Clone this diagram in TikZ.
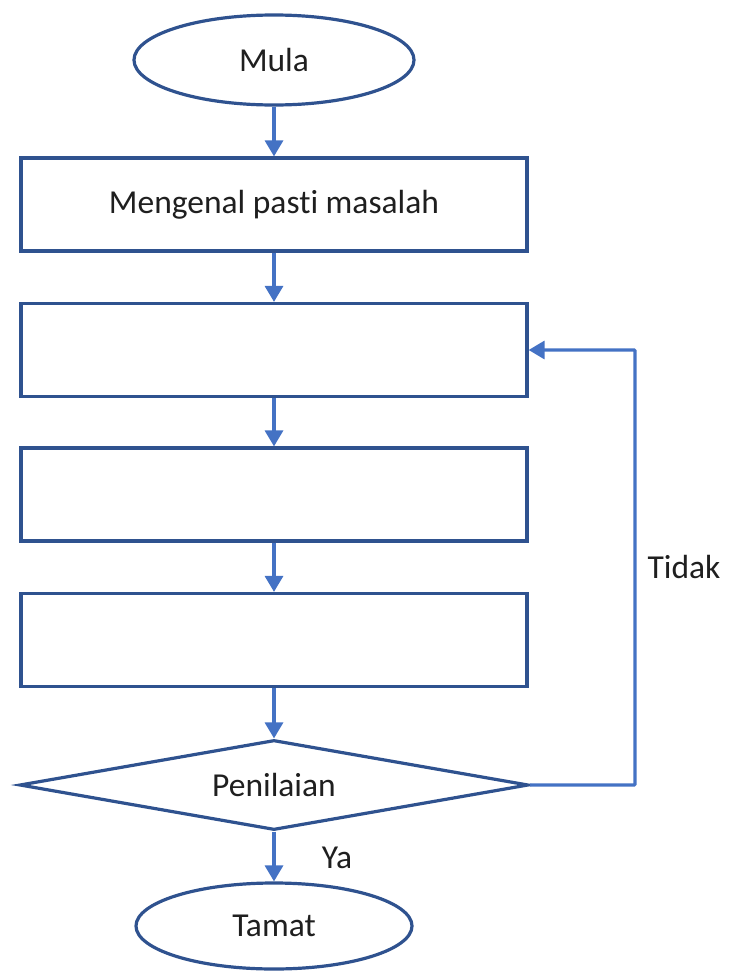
\documentclass[tikz,border=0pt]{standalone}
\usepackage{fontspec}
\setmainfont{Carlito}[Ligatures={NoCommon}]
\usetikzlibrary{shapes.geometric,arrows.meta}
\definecolor{outl}{HTML}{2F528F}
\definecolor{conn}{HTML}{4472C4}
\begin{document}
\begin{tikzpicture}[x=1pt,y=-1pt,
  lbl/.style={font=\fontsize{33.5}{40}\selectfont,text=black!88},
  box/.style={draw=outl,line width=3.2pt,fill=white,minimum width=506pt,minimum height=93pt,inner sep=0pt,lbl},
  term/.style={ellipse,draw=outl,line width=3.2pt,fill=white,minimum width=280pt,minimum height=90pt,inner sep=0pt,lbl},
  decide/.style={diamond,aspect=5.6,draw=outl,line width=3.2pt,fill=white,minimum width=509pt,minimum height=90pt,inner sep=0pt,lbl},
  flow/.style={draw=conn,line width=3.2pt,-{Triangle[length=16pt,width=18pt]}}]
\useasboundingbox (0,0) rectangle (736,972);
\node[term] (mula) at (274,60) {Mula};
\node[box] (b1) at (274,204.5) {Mengenal pasti masalah};
\node[box] (b2) at (274,350) {};
\node[box] (b3) at (274,494.5) {};
\node[box] (b4) at (274,640) {};
\node[decide] (pen) at (274,785) {Penilaian};
\node[term,minimum width=276pt,minimum height=86pt] (tamat) at (274,926) {Tamat};
\coordinate (fb) at (635,350);
\node[lbl] (tidak) at (684,567) {Tidak};
\node[lbl] (ya) at (337,858) {Ya};
\draw[flow] (mula.south) -- (b1.north);
\draw[flow] (b1.south) -- (b2.north);
\draw[flow] (b2.south) -- (b3.north);
\draw[flow] (b3.south) -- (b4.north);
\draw[flow] (b4.south) -- (pen.north);
\draw[flow] (pen.south) -- (tamat.north);
\draw[flow,rounded corners=1pt] (pen.east) -| (fb) -- (b2.east);
\end{tikzpicture}
\end{document}
